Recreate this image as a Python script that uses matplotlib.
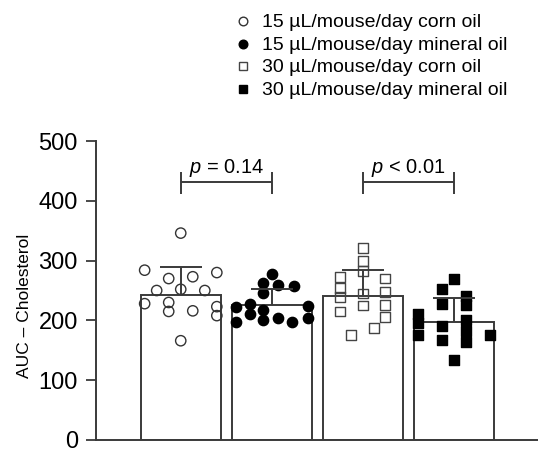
import matplotlib
matplotlib.use("Agg")
import matplotlib.pyplot as plt
from matplotlib.lines import Line2D
import numpy as np

plt.rcParams['font.family'] = ['Liberation Sans', 'DejaVu Sans']
plt.rcParams['mathtext.fontset'] = 'custom'
plt.rcParams['mathtext.it'] = 'Liberation Sans:italic'
plt.rcParams['mathtext.rm'] = 'Liberation Sans'

# data
groups = ['15 µL/mouse/day corn oil', '15 µL/mouse/day mineral oil',
          '30 µL/mouse/day corn oil', '30 µL/mouse/day mineral oil']
means = [243, 225, 241, 198]
sds = [46, 28, 44, 39]

g1 = [346, 284, 270, 273, 280, 250, 252, 250, 228, 230, 215, 216, 223, 208, 166]
g1_col = [0, -3, -1, 1, 3, -2, 0, 2, -3, -1, -1, 1, 3, 3, 0]
g2 = [277, 262, 259, 258, 246, 222, 228, 217, 224, 198, 210, 201, 204, 197, 204]
g2_col = [0, -0.7, 0.55, 1.8, -0.7, -3, -1.8, -0.7, 3, -3, -1.8, -0.7, 0.5, 1.7, 3]
g3 = [321, 299, 282, 272, 254, 239, 245, 225, 270, 248, 226, 206, 215, 187, 176]
g3_col = [0, 0, 0, -1.9, -1.9, -1.9, 0, 0, 1.8, 1.8, 1.8, 1.8, -1.9, 0.9, -1]
g4 = [270, 252, 228, 241, 226, 211, 196, 176, 190, 168, 200, 183, 164, 176, 133]
g4_col = [0, -1, -1, 1, 1, -3, -3, -3, -1, -1, 1, 1, 1, 3, 0]

p_labels = [r'$\it{p}$ = 0.14', r'$\it{p}$ < 0.01']

points = [g1, g2, g3, g4]
cols = [g1_col, g2_col, g3_col, g4_col]
markers = ['o', 'o', 's', 's']
faces = ['none', 'black', 'none', 'black']
edges = ['#333333', 'black', '#444444', 'black']

line_c = '#3a3a3a'
fig = plt.figure(figsize=(5.38, 4.53), dpi=100)
ax = fig.add_axes([0.1784, 0.0287, 0.8216, 0.660])

x = np.arange(4)
ax.bar(x, means, width=0.88, color='white', edgecolor=line_c, linewidth=1.4, zorder=1)

for i in range(4):
    xs = x[i] + np.array(cols[i]) * 0.132
    ax.scatter(xs, points[i], marker=markers[i], s=55 if markers[i] == 'o' else 50,
               facecolors=faces[i], edgecolors=edges[i], linewidths=1.0, zorder=3)

# error bars (upper only)
for i in range(4):
    ax.vlines(x[i], means[i], means[i] + sds[i], color=line_c, lw=1.4, zorder=4)
    ax.hlines(means[i] + sds[i], x[i] - 0.23, x[i] + 0.23, color=line_c, lw=1.4, zorder=4)

# significance brackets
for k, (a, b) in enumerate([(0, 1), (2, 3)]):
    ax.hlines(431, a, b, color=line_c, lw=1.4)
    ax.vlines([a, b], 411, 448, color=line_c, lw=1.4)
    ax.text((a + b) / 2, 446, p_labels[k], ha='center', va='baseline', fontsize=14.4)

ax.set_xlim(-0.93, 3.92)
ax.set_ylim(0, 500)
ax.set_yticks([0, 100, 200, 300, 400, 500])
ax.set_xticks([])
ax.tick_params(axis='y', labelsize=17, length=7, width=1.3, color=line_c, pad=6)
ax.set_ylabel('AUC – Cholesterol', fontsize=12.5)
ax.yaxis.set_label_coords(-0.145, 0.45)
for s in ['top', 'right']:
    ax.spines[s].set_visible(False)
for s in ['left', 'bottom']:
    ax.spines[s].set_color(line_c)
    ax.spines[s].set_linewidth(1.4)

# legend, laid out by hand in figure pixels
W, H = 538, 453
for i, lab in enumerate(groups):
    yb = 27 + i * 22.5
    fig.add_artist(Line2D([243 / W], [1 - (yb - 6) / H], transform=fig.transFigure,
                          marker=markers[i], markersize=6.2 if markers[i] == 'o' else 6,
                          markerfacecolor=faces[i] if faces[i] != 'none' else 'white',
                          markeredgecolor=edges[i], markeredgewidth=1.0, linestyle='none'))
    fig.text(262 / W, 1 - yb / H, lab, fontsize=14, va='baseline', ha='left')

fig.savefig('out.png', dpi=100)
